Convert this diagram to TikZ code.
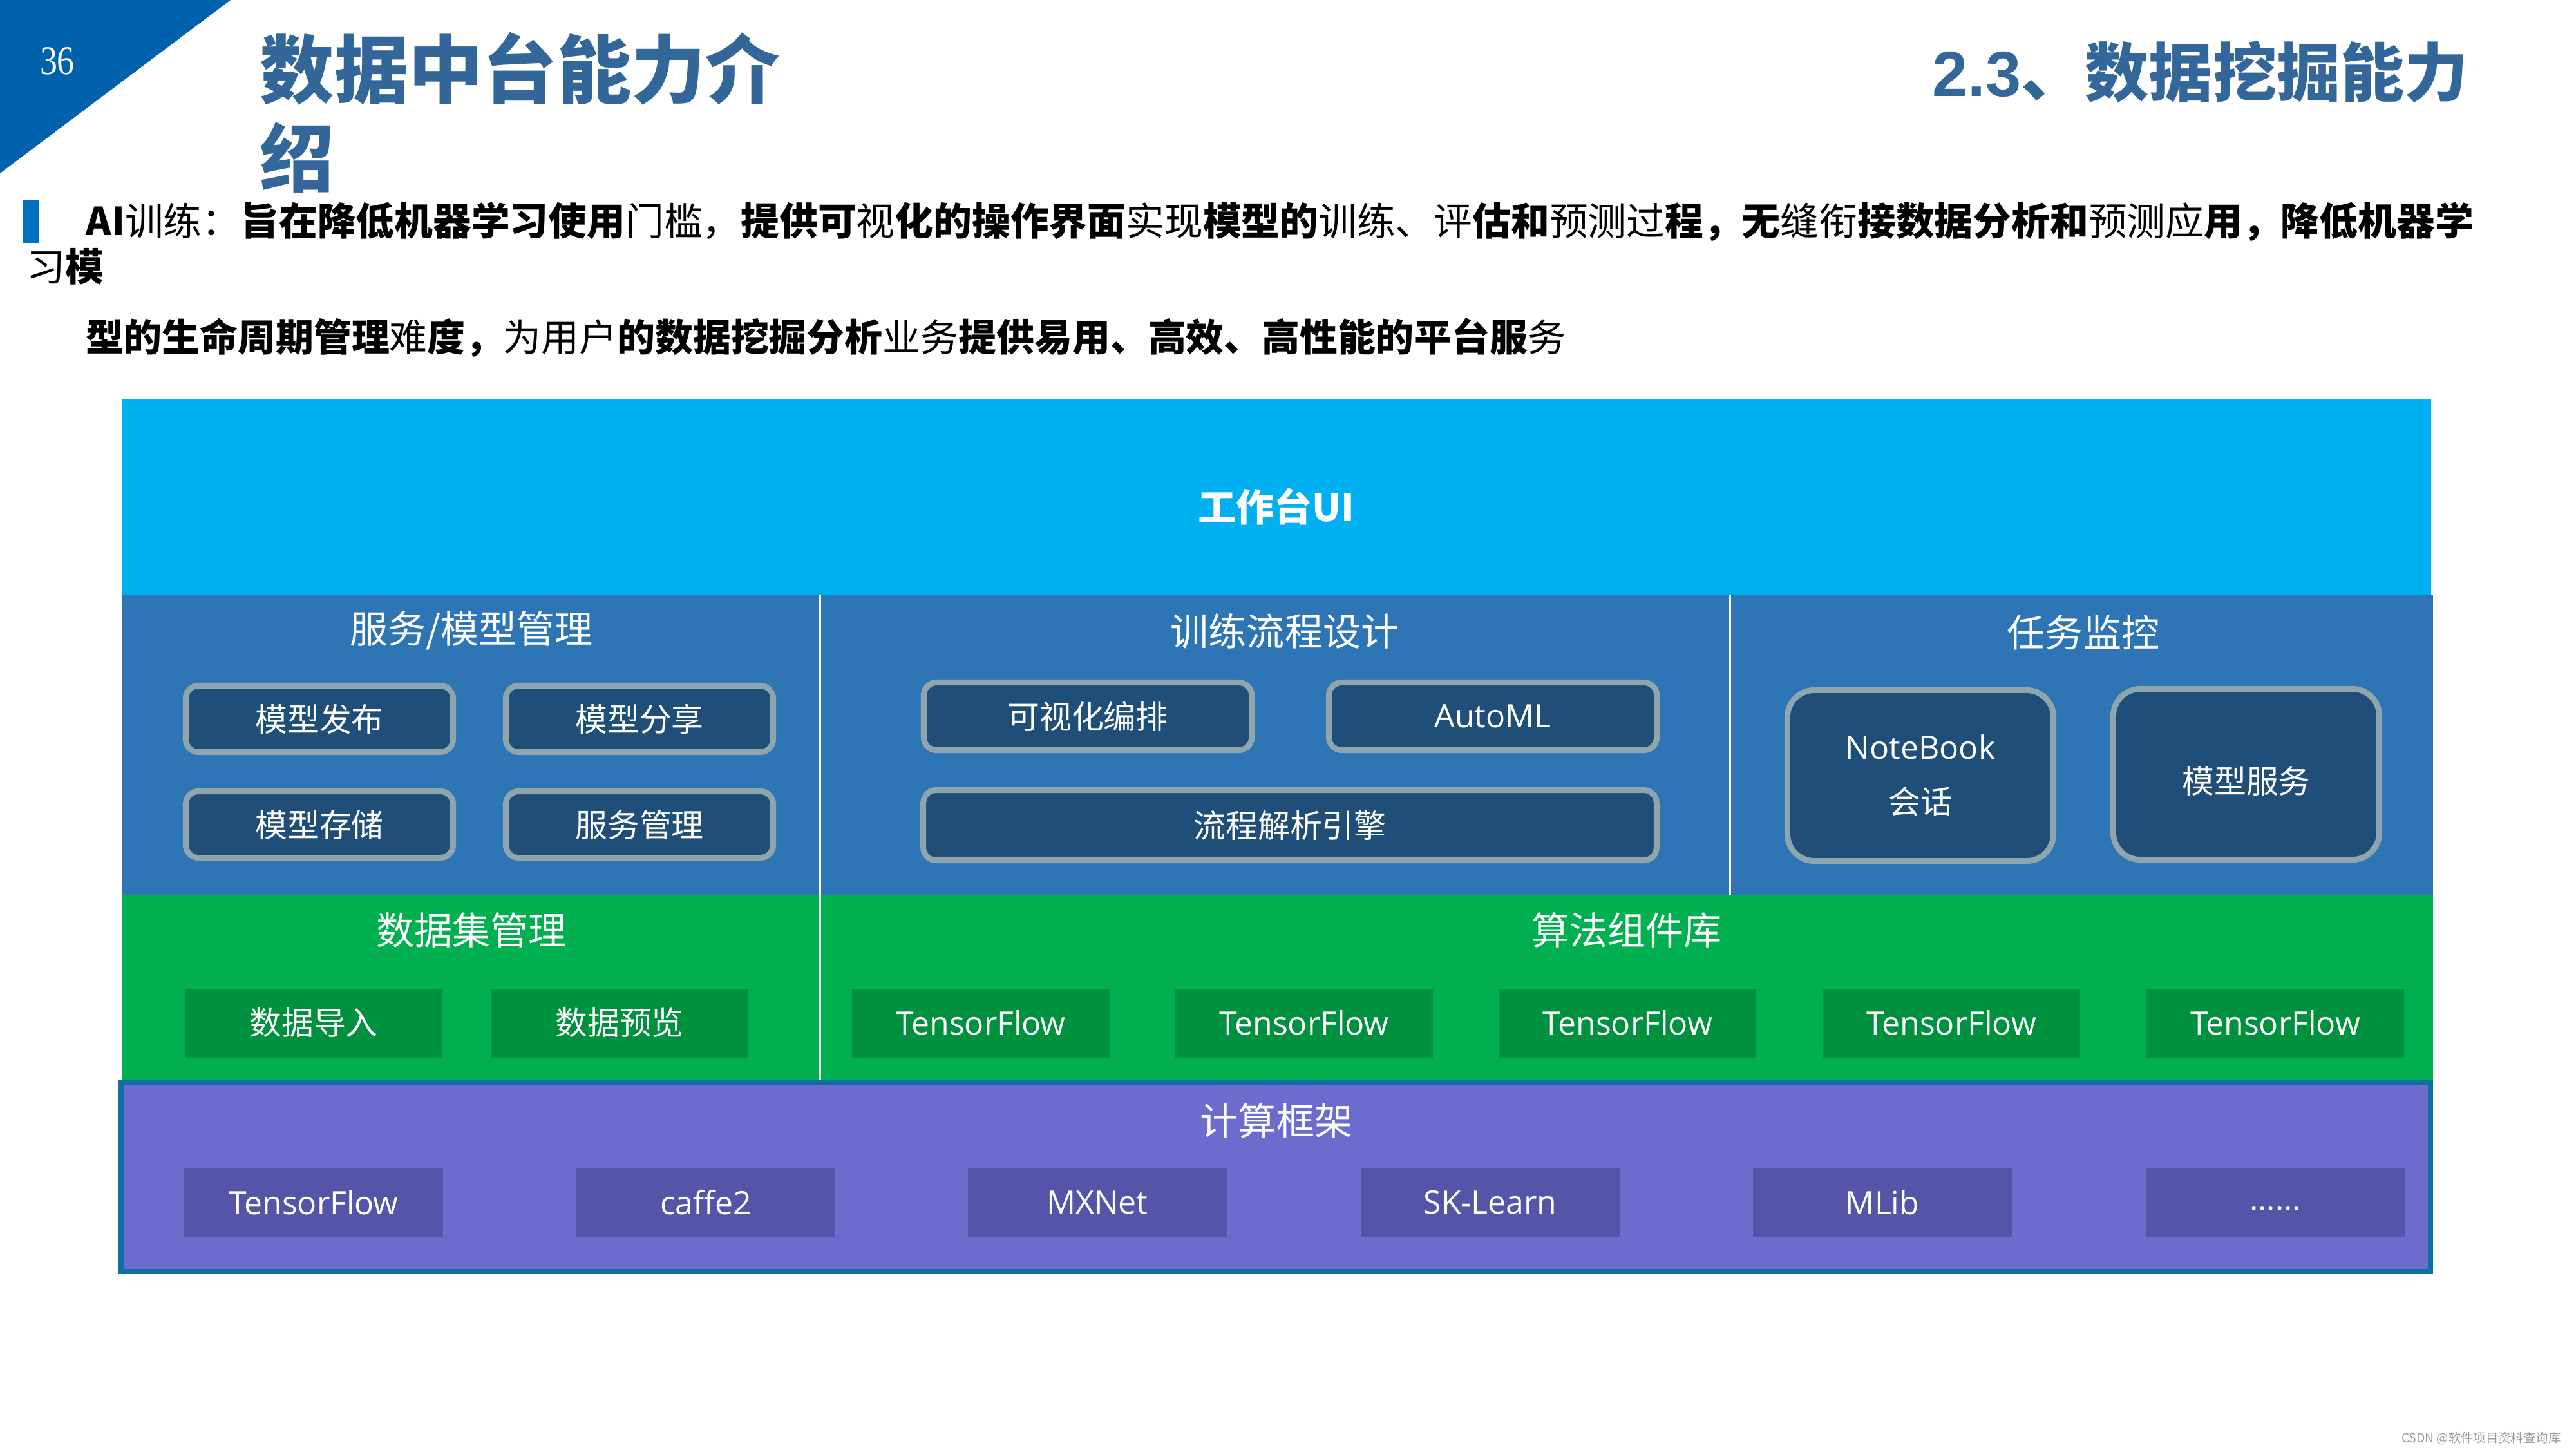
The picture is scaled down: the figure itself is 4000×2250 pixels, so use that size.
\documentclass[tikz,border=0pt]{standalone}
\usepackage{fontspec}
\setmainfont{Noto Sans CJK SC}
\newfontfamily\lat{Open Sans}
\newfontfamily\arialb{Liberation Sans}
\newfontfamily\serifnum{Liberation Serif}
\definecolor{uiblue}{HTML}{00B0F0}
\definecolor{midblue}{HTML}{2E75B6}
\definecolor{boxfill}{HTML}{1F4E79}
\definecolor{boxline}{HTML}{8FA5AD}
\definecolor{greena}{HTML}{00B050}
\definecolor{greenb}{HTML}{00913F}
\definecolor{purpa}{HTML}{6C6CCF}
\definecolor{purpb}{HTML}{5455A8}
\definecolor{purpline}{HTML}{0E6FA3}
\definecolor{titleblue}{HTML}{336699}
\definecolor{cornerblue}{HTML}{0062AD}
\definecolor{barblue}{HTML}{0070C0}
\definecolor{wmgray}{HTML}{9A9A9A}
\newcommand{\fsz}[1]{\fontsize{#1}{1.2\dimexpr#1\relax}\selectfont}
\tikzset{
  sectitle/.style={text=white, font=\fsz{16.8pt}, inner sep=0pt},
  rbox/.style={draw=boxline, fill=boxfill, line width=0.09cm, rounded corners=0.2cm,
     text=white, font=\fsz{14.2pt}, align=center, inner sep=0pt},
  nbox/.style={rbox, rounded corners=0.42cm},
  gbox/.style={fill=greenb, text=white, font=\fsz{14.2pt}, minimum width=4.0cm, minimum height=1.07cm, inner sep=0pt},
  pbox/.style={fill=purpb, text=white, font=\fsz{14.2pt}, minimum width=4.01cm, minimum height=1.08cm, inner sep=0pt},
  divider/.style={draw=white, line width=0.85pt}
}
\begin{document}
\begin{tikzpicture}[x=0.01cm,y=-0.01cm]
\useasboundingbox (0,0) rectangle (4000,2250);
\fill[white] (0,0) rectangle (4000,2250);

% corner triangle and page number
\fill[cornerblue] (0,0) -- (358,0) -- (0,269) -- cycle;
\node[text=white, font=\serifnum\fsz{18pt}, xscale=0.85] (pgnum) at (89,95) {36};

% titles
\node[anchor=west, text=titleblue, font=\bfseries\fsz{32.8pt}, inner sep=0pt] (title1) at (403,107) {数据中台能力介};
\node[anchor=west, text=titleblue, font=\bfseries\fsz{32.8pt}, inner sep=0pt] (title2) at (403,245) {绍};
\node[anchor=west, text=titleblue, font=\bfseries\fsz{28.2pt}, inner sep=0pt] (title3) at (3000,112) {{\arialb 2.3}、数据挖掘能力};

% intro text
\fill[barblue] (36,311) rectangle (61,378);
\node[anchor=west, inner sep=0pt, font=\fsz{17.0pt}] (line1) at (133,344)
 {\textbf{AI}训练：\textbf{旨在降低机器学习使用}门槛，\textbf{提供可}视\textbf{化的操作界面}实现\textbf{模型的}训练、评\textbf{估和}预测过\textbf{程，无}缝衔\textbf{接数据分析和}预测应\textbf{用，降低机器学}};
\node[anchor=west, inner sep=0pt, font=\fsz{17.0pt}] (line2) at (41,414) {习\textbf{模}};
\node[anchor=west, inner sep=0pt, font=\fsz{16.75pt}] (line3) at (133,524)
 {\textbf{型的生命周期管理}难\textbf{度，}为用户\textbf{的数据挖掘分析}业务\textbf{提供易用、高效、高性能的平台服}务};

% layers
\fill[uiblue] (189,620) rectangle (3775,923);
\fill[midblue] (189,923) rectangle (3778,1390);
\fill[greena] (189,1390) rectangle (3778,1681);
\filldraw[fill=purpa, draw=purpline, line width=0.08cm] (188,1681) rectangle (3774,1974);
\draw[divider] (1273,923) -- (1273,1677);
\draw[divider] (2686,923) -- (2686,1390);

\node[text=white, font=\bfseries\fsz{16.8pt}, inner sep=0pt] (ui) at (1982,786) {工作台UI};

% service / model management
\node[sectitle] (t1) at (732,979) {服务/模型管理};
\node[rbox, minimum width=4.15cm, minimum height=1.03cm] (b1) at (496,1116) {模型发布};
\node[rbox, minimum width=4.15cm, minimum height=1.03cm] (b2) at (993,1116) {模型分享};
\node[rbox, minimum width=4.15cm, minimum height=1.03cm] (b3) at (496,1280) {模型存储};
\node[rbox, minimum width=4.15cm, minimum height=1.03cm] (b4) at (993,1280) {服务管理};

% training flow design
\node[sectitle] (t2) at (1995,980) {训练流程设计};
\node[rbox, minimum width=5.09cm, minimum height=1.05cm] (b5) at (1689,1112) {可视化编排};
\node[rbox, minimum width=5.09cm, minimum height=1.05cm, font=\lat\fsz{14.2pt}] (b6) at (2318,1112) {AutoML};
\node[rbox, minimum width=11.38cm, minimum height=1.09cm] (b7) at (2003,1281) {流程解析引擎};

% task monitoring
\node[sectitle] (t3) at (3235,982) {任务监控};
\node[nbox, minimum width=4.13cm, minimum height=2.65cm] (b8) at (2982,1204) {{\lat NoteBook}\\[7pt]会话};
\node[nbox, minimum width=4.13cm, minimum height=2.65cm] (b9) at (3488,1202) {};
\node[text=white, font=\fsz{14.2pt}, inner sep=0pt] (b9t) at (3488,1212) {模型服务};

% dataset management
\node[sectitle] (t4) at (732,1444) {数据集管理};
\node[gbox] (g1) at (487,1588) {数据导入};
\node[gbox] (g2) at (962,1588) {数据预览};

% algorithm library
\node[sectitle] (t5) at (2526,1444) {算法组件库};
\node[gbox, font=\lat\fsz{14.2pt}] (g3) at (1523,1588) {TensorFlow};
\node[gbox, font=\lat\fsz{14.2pt}] (g4) at (2025,1588) {TensorFlow};
\node[gbox, font=\lat\fsz{14.2pt}] (g5) at (2527,1588) {TensorFlow};
\node[gbox, font=\lat\fsz{14.2pt}] (g6) at (3030,1588) {TensorFlow};
\node[gbox, font=\lat\fsz{14.2pt}] (g7) at (3533,1588) {TensorFlow};

% compute frameworks
\node[sectitle] (t6) at (1982,1740) {计算框架};
\node[pbox, font=\lat\fsz{14.2pt}] (p1) at (487,1867) {TensorFlow};
\node[pbox, font=\lat\fsz{14.2pt}] (p2) at (1096,1867) {caffe2};
\node[pbox, font=\lat\fsz{14.2pt}] (p3) at (1704,1867) {MXNet};
\node[pbox, font=\lat\fsz{14.2pt}] (p4) at (2314,1867) {SK-Learn};
\node[pbox, font=\lat\fsz{14.2pt}] (p5) at (2923,1867) {MLib};
\node[pbox, font=\lat\fsz{14.2pt}] (p6) at (3533,1867) {\vphantom{Tg}......};

% watermark
\node[anchor=east, text=wmgray, font=\fsz{5.5pt}, inner sep=0pt] (wm) at (3977,2233) {CSDN @软件项目资料查询库};
\end{tikzpicture}
\end{document}
